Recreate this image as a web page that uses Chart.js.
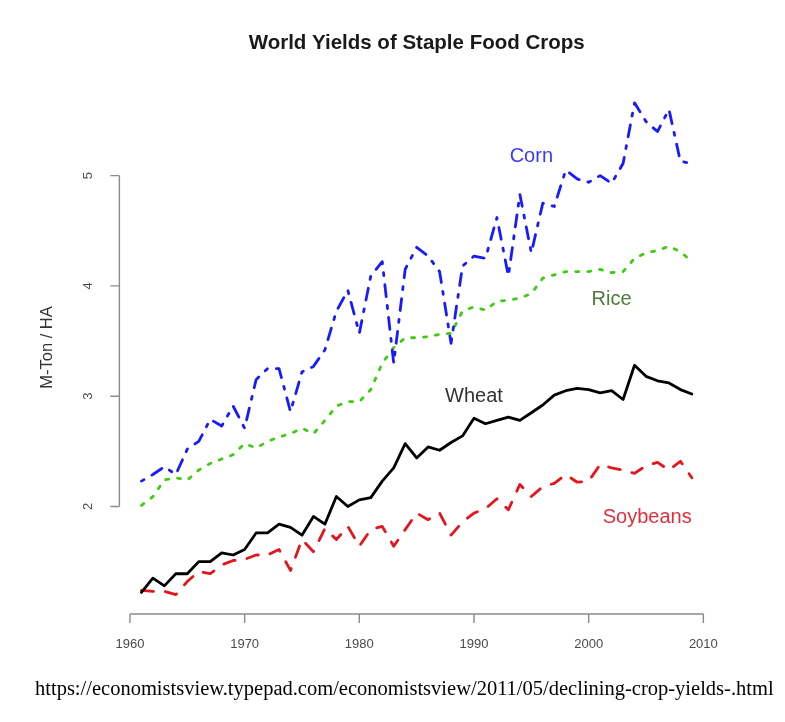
<!DOCTYPE html>
<html>
<head>
<meta charset="utf-8">
<script src="https://cdn.jsdelivr.net/npm/chart.js@4.4.1/dist/chart.umd.min.js"></script>
<style>
  html, body { margin: 0; padding: 0; background: #fff; }
  #wrap { position: relative; width: 785px; height: 722px; }
  #c { position: absolute; left: 0; top: 0; }
  #src { position: absolute; left: 35px; top: 677px; font-family: "Liberation Serif", "Times New Roman", serif; font-size: 20.5px; color: #000; white-space: nowrap; }
</style>
</head>
<body>
<div id="wrap">
  <canvas id="c" width="785" height="722"></canvas>
  <div id="src">https://economistsview.typepad.com/economistsview/2011/05/declining-crop-yields-.html</div>
</div>
<script>
const years = [1961,1962,1963,1964,1965,1966,1967,1968,1969,1970,
               1971,1972,1973,1974,1975,1976,1977,1978,1979,1980,
               1981,1982,1983,1984,1985,1986,1987,1988,1989,1990,
               1991,1992,1993,1994,1995,1996,1997,1998,1999,2000,
               2001,2002,2003,2004,2005,2006,2007,2008,2009];
const corn = [2.23,2.29,2.36,2.29,2.52,2.59,2.79,2.73,2.91,2.71,
              3.15,3.25,3.25,2.86,3.22,3.27,3.42,3.77,3.96,3.57,
              4.09,4.22,3.30,4.15,4.35,4.27,4.13,3.48,4.18,4.27,
              4.25,4.62,4.09,4.83,4.30,4.75,4.72,5.05,4.97,4.94,
              5.00,4.93,5.11,5.66,5.49,5.40,5.60,5.13,5.11];
const rice = [2.01,2.09,2.24,2.26,2.24,2.33,2.39,2.43,2.47,2.57,
              2.53,2.59,2.63,2.66,2.71,2.66,2.78,2.91,2.95,2.95,
              3.06,3.30,3.44,3.53,3.53,3.54,3.56,3.57,3.77,3.81,
              3.78,3.86,3.87,3.89,3.93,4.07,4.10,4.13,4.13,4.13,
              4.15,4.12,4.13,4.25,4.30,4.32,4.36,4.31,4.22];
const wheat = [1.22,1.35,1.28,1.39,1.39,1.50,1.50,1.58,1.56,1.61,
               1.76,1.76,1.84,1.81,1.74,1.91,1.84,2.09,2.00,2.06,
               2.08,2.23,2.35,2.57,2.44,2.54,2.51,2.58,2.64,2.80,
               2.75,2.78,2.81,2.78,2.85,2.92,3.01,3.05,3.07,3.06,
               3.03,3.05,2.97,3.28,3.18,3.14,3.12,3.06,3.02];
const soybeans = [1.24,1.23,1.23,1.20,1.32,1.41,1.39,1.47,1.51,1.52,
                  1.56,1.56,1.61,1.42,1.70,1.59,1.80,1.70,1.82,1.64,
                  1.79,1.82,1.64,1.79,1.94,1.88,1.94,1.74,1.86,1.94,
                  1.98,2.07,1.97,2.20,2.09,2.18,2.21,2.29,2.22,2.23,
                  2.38,2.35,2.33,2.30,2.37,2.40,2.33,2.41,2.26];
const seriesNames = ["Corn", "Rice", "Wheat", "Soybeans"];
const xTicks = [1960, 1970, 1980, 1990, 2000, 2010];
const yTicks = [2, 3, 4, 5];
const titleText = "World Yields of Staple Food Crops";
const yTitle = "M-Ton / HA";

function pts(arr) { return years.map((yr, i) => ({ x: yr, y: arr[i] })); }

const LW = 2.8;
const seriesStyle = {
  Corn:     { color: "#1a1aff", dash: [3, 9, 12, 9], label: "#3a3aff", at: [1995, 5.17] },
  Rice:     { color: "#3fcc10", dash: [3, 9],        label: "#4f7a3f", at: [2002, 3.88] },
  Wheat:    { color: "#000000", dash: [],            label: "#333333", at: [1990, 3.00] },
  Soybeans: { color: "#e8141c", dash: [12, 12],      label: "#e2303a", at: [2005.1, 1.90] }
};
const seriesData = { Corn: corn, Rice: rice, Wheat: wheat, Soybeans: soybeans };

const datasets = seriesNames.map(n => ({
  label: n,
  data: pts(seriesData[n]),
  borderColor: seriesStyle[n].color,
  borderWidth: LW,
  borderDash: seriesStyle[n].dash,
  borderCapStyle: "round",
  borderJoinStyle: "round",
  pointRadius: 0,
  tension: 0,
  fill: false
}));

const rStyle = {
  id: "rStyle",
  afterDraw(chart) {
    const ctx = chart.ctx;
    const xs = chart.scales.x, ys = chart.scales.y;
    const ca = chart.chartArea;
    const axisCol = "#8a8a8a";
    const tickLen = 9;
    ctx.save();
    // x axis
    ctx.strokeStyle = axisCol;
    ctx.lineWidth = 1.4;
    ctx.beginPath();
    const x0 = xs.getPixelForValue(xTicks[0]), x1 = xs.getPixelForValue(xTicks[xTicks.length - 1]);
    ctx.moveTo(x0, ca.bottom); ctx.lineTo(x1, ca.bottom);
    xTicks.forEach(t => { const px = xs.getPixelForValue(t); ctx.moveTo(px, ca.bottom); ctx.lineTo(px, ca.bottom + tickLen); });
    // y axis
    const y0 = ys.getPixelForValue(yTicks[0]), y1 = ys.getPixelForValue(yTicks[yTicks.length - 1]);
    ctx.moveTo(ca.left, y0); ctx.lineTo(ca.left, y1);
    yTicks.forEach(t => { const py = ys.getPixelForValue(t); ctx.moveTo(ca.left, py); ctx.lineTo(ca.left - tickLen, py); });
    ctx.stroke();

    // tick labels
    ctx.fillStyle = "#4a4a4a";
    ctx.font = "13px 'Liberation Sans', Arial, sans-serif";
    ctx.textAlign = "center";
    ctx.textBaseline = "middle";
    xTicks.forEach(t => ctx.fillText(String(t), xs.getPixelForValue(t), ca.bottom + 30));
    yTicks.forEach(t => {
      ctx.save();
      ctx.translate(ca.left - 31, ys.getPixelForValue(t));
      ctx.rotate(-Math.PI / 2);
      ctx.fillText(String(t), 0, 0);
      ctx.restore();
    });
    // y title
    ctx.save();
    ctx.fillStyle = "#333";
    ctx.font = "16.5px 'Liberation Sans', Arial, sans-serif";
    ctx.translate(ca.left - 72, (ca.top + ca.bottom) / 2 - 1);
    ctx.rotate(-Math.PI / 2);
    ctx.fillText(yTitle, 0, 0);
    ctx.restore();

    // title
    ctx.fillStyle = "#1a1a1a";
    ctx.font = "bold 20.5px 'Liberation Sans', Arial, sans-serif";
    ctx.fillText(titleText, (ca.left + ca.right) / 2, 43);

    // series labels
    ctx.font = "20px 'Liberation Sans', Arial, sans-serif";
    seriesNames.forEach(n => {
      const s = seriesStyle[n];
      ctx.fillStyle = s.label;
      ctx.fillText(n, xs.getPixelForValue(s.at[0]), ys.getPixelForValue(s.at[1]));
    });
    ctx.restore();
  }
};

new Chart(document.getElementById("c"), {
  type: "line",
  data: { datasets },
  options: {
    responsive: false,
    animation: false,
    devicePixelRatio: 1,
    layout: { padding: { left: 119.4, right: 71.1, top: 83, bottom: 108 } },
    plugins: { legend: { display: false }, title: { display: false }, tooltip: { enabled: false } },
    scales: {
      x: { type: "linear", min: 1959.08, max: 2010.92, display: false },
      y: { type: "linear", min: 1.025, max: 5.84, display: false }
    }
  },
  plugins: [rStyle]
});
</script>
</body>
</html>
